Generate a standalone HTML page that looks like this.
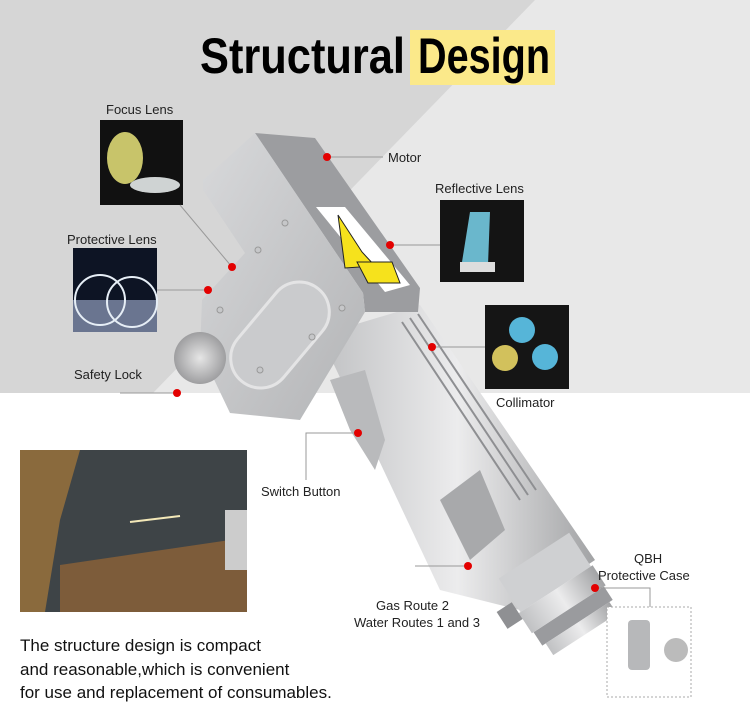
<!DOCTYPE html>
<html><head><style>
body{margin:0;width:750px;height:715px;overflow:hidden;background:#fff;font-family:"Liberation Sans",sans-serif}
.t{position:absolute;font-size:13px;color:#222;white-space:nowrap}
</style></head><body>
<svg width="750" height="715" style="position:absolute;left:0;top:0">
<defs>
<linearGradient id="g1" x1="0" y1="0" x2="1" y2="1"><stop offset="0" stop-color="#d8d9db"/><stop offset="1" stop-color="#b3b4b6"/></linearGradient>
<linearGradient id="g2" x1="0" y1="0" x2="1" y2="0"><stop offset="0" stop-color="#c0c1c3"/><stop offset=".5" stop-color="#ececed"/><stop offset="1" stop-color="#a2a3a5"/></linearGradient>
<radialGradient id="rk"><stop offset="0" stop-color="#e6e6e6"/><stop offset="1" stop-color="#9e9ea0"/></radialGradient>
</defs>
<rect x="0" y="0" width="750" height="393" fill="#e8e8e8"/>
<polygon points="0,0 535,0 153,393 0,393" fill="#d6d6d6"/>
<rect x="410" y="30" width="145" height="55" fill="#fbe98a"/>
<text x="200" y="73" font-family="Liberation Sans Narrow,Liberation Sans,sans-serif" font-weight="bold" font-size="50" textLength="205" lengthAdjust="spacingAndGlyphs">Structural</text>
<text x="418" y="73" font-family="Liberation Sans Narrow,Liberation Sans,sans-serif" font-weight="bold" font-size="50" textLength="132" lengthAdjust="spacingAndGlyphs">Design</text>
<!-- handle -->
<polygon points="320,335 420,305 595,560 520,610 440,590" fill="url(#g2)"/>
<g stroke="#8e8f92" stroke-width="2"><line x1="402" y1="322" x2="520" y2="500"/><line x1="410" y1="318" x2="528" y2="495"/><line x1="418" y1="314" x2="536" y2="490"/></g>
<polygon points="330,380 365,370 385,440 375,470 350,430" fill="#b9babc"/>
<polygon points="440,500 480,470 505,530 470,560" fill="#a8a9ab"/>
<!-- nozzle -->
<g transform="translate(553,585) rotate(-33)">
<rect x="-42" y="-35" width="84" height="40" fill="#cfd0d2"/>
<rect x="-44" y="5" width="88" height="24" fill="url(#g2)"/>
<rect x="-42" y="29" width="84" height="16" fill="#9a9b9e"/>
<rect x="-38" y="45" width="76" height="14" fill="url(#g2)"/>
<rect x="-62" y="-8" width="18" height="20" fill="#8f9093"/>
</g>
<!-- head -->
<polygon points="255,133 315,138 420,288 418,312 365,312 363,293" fill="#9c9da0"/>
<polygon points="255,133 363,293 365,312 300,420 230,413 200,350 202,300 245,253 203,190 203,180" fill="url(#g1)"/>
<polygon points="316,207 345,207 410,285 385,292" fill="#fff"/>
<polygon points="338,215 362,252 375,266 345,268" fill="#f6e21c" stroke="#222" stroke-width="1"/>
<polygon points="357,262 392,262 400,283 368,283" fill="#f6e21c" stroke="#222" stroke-width="1"/>
<rect x="250" y="275" width="60" height="120" rx="30" transform="rotate(40 280 335)" fill="#cacbcd" stroke="#e4e4e5" stroke-width="3"/>
<circle cx="200" cy="358" r="26" fill="url(#rk)"/>
<g fill="#c6c7c9" stroke="#999" stroke-width="1"><circle cx="285" cy="223" r="3"/><circle cx="258" cy="250" r="3"/><circle cx="220" cy="310" r="3"/><circle cx="312" cy="337" r="3"/><circle cx="342" cy="308" r="3"/><circle cx="260" cy="370" r="3"/></g>
<!-- thumbnails -->
<rect x="100" y="120" width="83" height="85" fill="#111"/>
<ellipse cx="125" cy="158" rx="18" ry="26" fill="#c8c46a"/><ellipse cx="155" cy="185" rx="25" ry="8" fill="#cfd3d3"/>
<rect x="73" y="248" width="84" height="84" fill="#0d1424"/>
<rect x="73" y="300" width="84" height="32" fill="#6a7590"/>
<circle cx="100" cy="300" r="25" fill="none" stroke="#e6eef6" stroke-width="2"/><circle cx="132" cy="302" r="25" fill="none" stroke="#e6eef6" stroke-width="2"/>
<rect x="440" y="200" width="84" height="82" fill="#141414"/>
<polygon points="470,212 490,212 488,265 462,262" fill="#6ab7cc"/><rect x="460" y="262" width="35" height="10" fill="#ddd"/>
<rect x="485" y="305" width="84" height="84" fill="#151515"/>
<circle cx="522" cy="330" r="13" fill="#56b5d8"/><circle cx="505" cy="358" r="13" fill="#d2c15c"/><circle cx="545" cy="357" r="13" fill="#56b5d8"/>
<!-- work photo -->
<rect x="20" y="450" width="227" height="162" fill="#3e4447"/>
<polygon points="20,450 80,450 60,520 45,612 20,612" fill="#8a6a3d"/>
<polygon points="60,565 230,540 247,560 247,612 60,612" fill="#7d5c3a"/>
<rect x="225" y="510" width="22" height="60" fill="#ccc"/>
<line x1="130" y1="522" x2="180" y2="516" stroke="#f3e8b8" stroke-width="2"/>
<!-- QBH case -->
<rect x="607" y="607" width="84" height="90" fill="#fff" stroke="#aaa" stroke-dasharray="2,2"/>
<rect x="628" y="620" width="22" height="50" rx="4" fill="#b7b8ba"/>
<circle cx="676" cy="650" r="12" fill="#bbb"/>
<!-- leader lines -->
<g stroke="#999" fill="none" stroke-width="1">
<polyline points="180,205 232,267"/><polyline points="157,290 208,290"/><polyline points="120,393 175,393"/>
<polyline points="327,157 383,157"/><polyline points="390,245 440,245"/><polyline points="432,347 485,347"/>
<polyline points="360,433 306,433 306,480"/><polyline points="468,566 415,566"/><polyline points="596,588 650,588 650,607"/>
</g>
<g fill="#e30000"><circle cx="232" cy="267" r="4"/><circle cx="208" cy="290" r="4"/><circle cx="177" cy="393" r="4"/><circle cx="327" cy="157" r="4"/><circle cx="390" cy="245" r="4"/><circle cx="432" cy="347" r="4"/><circle cx="358" cy="433" r="4"/><circle cx="468" cy="566" r="4"/><circle cx="595" cy="588" r="4"/></g>
</svg>
<div class="t" style="left:106px;top:102px">Focus Lens</div>
<div class="t" style="left:67px;top:232px">Protective Lens</div>
<div class="t" style="left:74px;top:367px">Safety Lock</div>
<div class="t" style="left:388px;top:150px">Motor</div>
<div class="t" style="left:435px;top:181px">Reflective Lens</div>
<div class="t" style="left:496px;top:395px">Collimator</div>
<div class="t" style="left:261px;top:484px">Switch Button</div>
<div class="t" style="left:376px;top:598px">Gas Route 2</div>
<div class="t" style="left:354px;top:615px">Water Routes 1 and 3</div>
<div class="t" style="left:634px;top:551px">QBH</div>
<div class="t" style="left:598px;top:568px">Protective Case</div>
<div class="t" style="left:20px;top:634px;font-size:17px;line-height:23.5px;color:#111">The structure design is compact<br>and reasonable,which is convenient<br>for use and replacement of consumables.</div>
</body></html>
